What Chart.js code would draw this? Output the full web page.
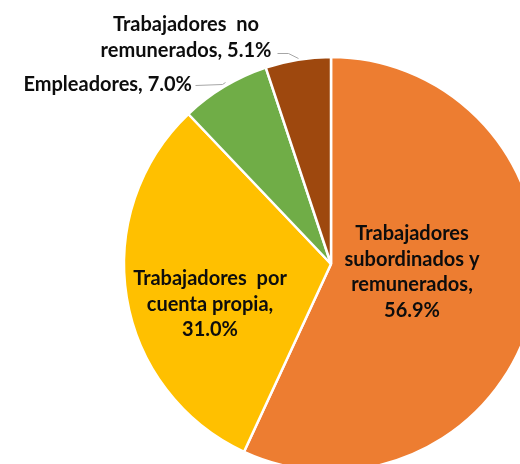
<!DOCTYPE html>
<html><head><meta charset="utf-8">
<script src="https://cdn.jsdelivr.net/npm/chart.js@4"></script>
<style>html,body{margin:0;padding:0;background:#fff;overflow:hidden}#wrap{position:relative;width:520px;height:464px}</style>
</head><body><div id="wrap"><canvas id="c" width="520" height="464"></canvas></div>
<script>
const categories = ["Trabajadores subordinados y remunerados", "Trabajadores por cuenta propia", "Empleadores", "Trabajadores no remunerados"];
const values = [56.9, 31.0, 7.0, 5.1];
const colors = ["#ED7D31", "#FFC000", "#70AD47", "#9E480E"];
const fmt = v => v.toFixed(1) + "%";
const labelLines = [
  ["Trabajadores", "subordinados y", "remunerados,", fmt(values[0])],
  ["Trabajadores  por", "cuenta propia,", fmt(values[1])],
  ["Empleadores, " + fmt(values[2])],
  ["Trabajadores  no", "remunerados, " + fmt(values[3])]
];
// label placement (offsets from pie centre), alignment, leader lines
const labelLayout = [
  {dx: 81, dy: -30, align: "center"},
  {dx: -121, dy: 15, align: "center"},
  {dx: -139, dy: -179, align: "right", leader: [[-136, -179], [-109, -180], [-106, -182]]},
  {dx: -145, dy: -239, align: "center", leader: [[-54, -211], [-43, -211], [-33, -206]]}
];
const FONT = "bold 20px Lato";
const LINE_H = 25.5;

const labelPlugin = {
  id: "labels",
  afterDatasetsDraw(chart) {
    const ctx = chart.ctx;
    const arc = chart.getDatasetMeta(0).data[0];
    const cx = arc.x, cy = arc.y;
    ctx.save();
    labelLayout.forEach((L, i) => {
      if (L.leader) {
        ctx.strokeStyle = "#A6A6A6";
        ctx.lineWidth = 1;
        ctx.beginPath();
        L.leader.forEach((p, k) => {
          const x = cx + p[0] + 0.5, y = cy + p[1] + 0.5;
          if (k === 0) ctx.moveTo(x, y); else ctx.lineTo(x, y);
        });
        ctx.stroke();
      }
      ctx.font = FONT;
      ctx.fillStyle = "#0D0D0D";
      ctx.textAlign = L.align;
      ctx.textBaseline = "middle";
      labelLines[i].forEach((t, k) => {
        ctx.fillText(t, cx + L.dx, cy + L.dy + k * LINE_H);
      });
    });
    ctx.restore();
  }
};

new Chart(document.getElementById("c"), {
  type: "pie",
  data: {
    labels: categories,
    datasets: [{
      data: values,
      backgroundColor: colors,
      borderColor: "#FFFFFF",
      borderWidth: 2.5,
      clip: false
    }]
  },
  options: {
    responsive: false,
    animation: false,
    radius: 207,
    layout: {padding: {left: 142, top: 64, right: 0, bottom: 0}},
    plugins: {legend: {display: false}, tooltip: {enabled: false}}
  },
  plugins: [labelPlugin]
});
</script>
</body></html>
